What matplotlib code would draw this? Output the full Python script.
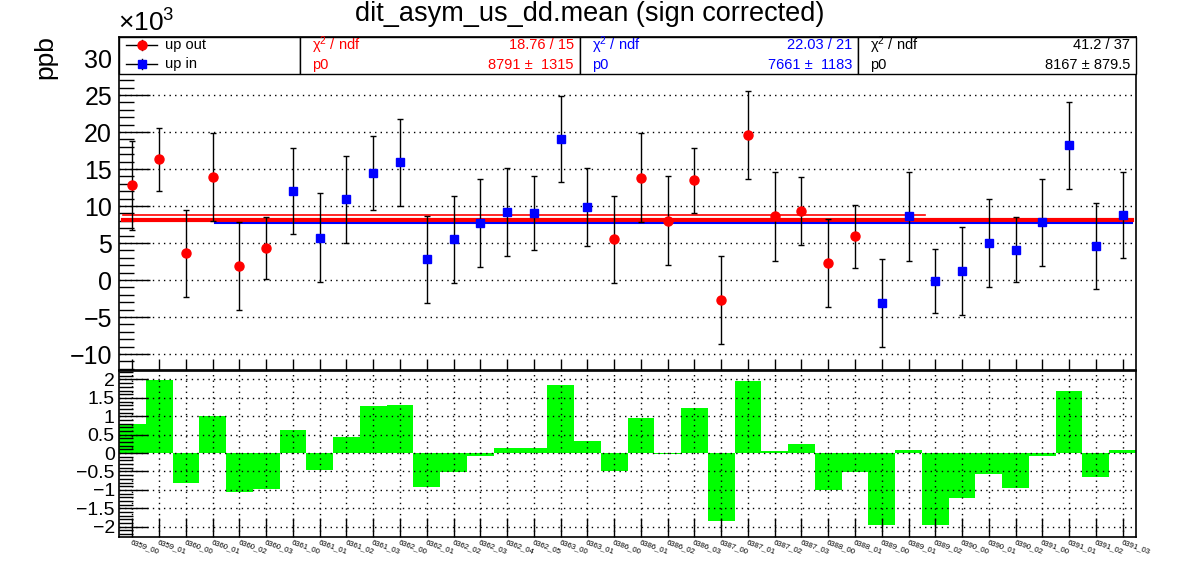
import matplotlib

matplotlib.use("Agg")
import matplotlib.pyplot as plt
import numpy as np
from matplotlib.patches import Rectangle
from matplotlib.ticker import MultipleLocator

plt.rcParams["font.family"] = ["Liberation Sans", "DejaVu Sans"]
plt.rcParams["mathtext.fontset"] = "custom"
plt.rcParams["mathtext.rm"] = "Liberation Sans"
plt.rcParams["mathtext.it"] = "Liberation Sans:italic"

runs = [
    "6359_00", "6359_01", "6360_00", "6360_01", "6360_02", "6360_03",
    "6361_00", "6361_01", "6361_02", "6361_03", "6362_00", "6362_01",
    "6362_02", "6362_03", "6362_04", "6362_05", "6363_00", "6363_01",
    "6386_00", "6386_01", "6386_02", "6386_03", "6387_00", "6387_01",
    "6387_02", "6387_03", "6388_00", "6388_01", "6389_00", "6389_01",
    "6389_02", "6390_00", "6390_01", "6390_02", "6391_00", "6391_01",
    "6391_02", "6391_03",
]
# slug: 'out' = red circles, 'in' = blue squares
slug = ["out"] * 6 + ["in"] * 12 + ["out"] * 10 + ["in"] * 10
# values in units of 1e3 ppb
mean = [
    12.8, 16.3, 3.6, 13.9, 1.9, 4.3, 12.0, 5.7, 10.9, 14.5, 15.9, 2.8,
    5.5, 7.7, 9.2, 9.0, 19.1, 9.9, 5.5, 13.8, 8.0, 13.5, -2.7, 19.6,
    8.6, 9.3, 2.3, 5.9, -3.1, 8.6, -0.1, 1.2, 5.0, 4.1, 7.8, 18.2,
    4.6, 8.8,
]
err = [
    6.0, 4.3, 5.9, 5.9, 5.9, 4.2, 5.8, 6.0, 5.9, 5.0, 5.9, 5.9,
    5.9, 5.9, 5.9, 5.0, 5.8, 5.3, 5.9, 6.0, 6.0, 4.4, 5.9, 5.9,
    6.0, 4.6, 5.9, 4.3, 5.9, 6.0, 4.3, 5.9, 5.9, 4.4, 5.9, 5.9,
    5.8, 5.8,
]
pull = [
    0.80, 1.98, -0.80, 1.00, -1.07, -0.97, 0.63, -0.45, 0.45, 1.27, 1.30, -0.93,
    -0.52, -0.08, 0.15, 0.15, 1.85, 0.32, -0.50, 0.95, -0.03, 1.22, -1.85, 1.97,
    0.07, 0.25, -1.00, -0.52, -1.95, 0.08, -1.95, -1.23, -0.57, -0.95, -0.07, 1.70,
    -0.65, 0.08,
]

# constant fits (values in 1e3 ppb, ranges in bin units)
fit_out = 8.791
fit_in = 7.661
fit_all = 8.167
range_out = (0.15, 30.1)
range_in = (3.6, 37.85)
range_all = (0.15, 37.85)

stats = [
    ("red", "18.76 / 15", "8791 \u00b1  1315"),
    ("blue", "22.03 / 21", "7661 \u00b1  1183"),
    ("black", "41.2 / 37", "8167 \u00b1 879.5"),
]

W, H = 1196, 572


def fx(px):
    return px / W


def fy(py):
    return 1 - py / H


def rect(l, t, r, b):
    return [fx(l), fy(b), fx(r) - fx(l), fy(t) - fy(b)]


fig = plt.figure(figsize=(W / 100, H / 100), dpi=100)
ax = fig.add_axes(rect(119, 37, 1136, 370))
axr = fig.add_axes(rect(119, 371, 1136, 537), sharex=ax)

x = np.arange(len(runs)) + 0.5
mean = np.array(mean)
err = np.array(err)
is_out = np.array([s == "out" for s in slug])
dot = (0, (1, 3))

ax.errorbar(x[is_out], mean[is_out], yerr=err[is_out], fmt="o", color="red",
            markersize=6.5, ecolor="black", elinewidth=1, capsize=2.2,
            capthick=1, zorder=4)
ax.errorbar(x[~is_out], mean[~is_out], yerr=err[~is_out], fmt="s", color="blue",
            markersize=6, ecolor="black", elinewidth=1, capsize=2.2,
            capthick=1, zorder=4)
ax.plot(range_out, [fit_out] * 2, color="red", lw=1.2, zorder=3)
ax.plot(range_all, [fit_all] * 2, color="red", lw=3, zorder=3)
ax.plot(range_in, [fit_in] * 2, color="blue", lw=1.5, zorder=3)

ax.set_xlim(0, len(runs))
ax.set_ylim(-12.16, 32.84)
ax.yaxis.set_major_locator(MultipleLocator(5))
ax.yaxis.set_minor_locator(MultipleLocator(1))
ax.set_xticks(x)
ax.tick_params(axis="y", which="major", direction="in", length=22, width=1,
               labelsize=18, pad=5)
ax.tick_params(axis="y", which="minor", direction="in", length=11, width=1)
ax.tick_params(axis="x", which="major", direction="in", length=8, width=1,
               labelbottom=False)
ax.grid(axis="y", which="major", color="black", linestyle=dot, lw=1)
for s in ax.spines.values():
    s.set_linewidth(1.2)

axr.bar(x, pull, width=1.0, color="#00ff00", zorder=2)
axr.set_ylim(-2.28, 2.23)
axr.yaxis.set_minor_locator(MultipleLocator(0.1))
axr.set_yticks([-2, -1.5, -1, -0.5, 0, 0.5, 1, 1.5, 2])
axr.set_yticklabels(["\u22122", "\u22121.5", "\u22121", "\u22120.5", "0", "0.5",
                     "1", "1.5", "2"])
axr.tick_params(axis="y", which="major", direction="in", length=21, width=1,
                labelsize=14, pad=3)
axr.tick_params(axis="y", which="minor", direction="in", length=10, width=1)
axr.tick_params(axis="x", which="major", direction="in", length=14, width=1)
axr.set_xticks(x)
axr.set_xticklabels(runs, rotation=-20, ha="left", va="top",
                    rotation_mode="anchor", fontsize=5.6)
axr.tick_params(axis="x", pad=1.5)
axr.grid(which="major", color="black", linestyle=dot, lw=1)
axr.set_axisbelow(False)
for s in axr.spines.values():
    s.set_linewidth(1.2)

# boxes along the top of the upper pad
box_edges = [119, 300, 580, 858, 1136]
for l, r in zip(box_edges[:-1], box_edges[1:]):
    fig.add_artist(Rectangle((fx(l), fy(74)), fx(r) - fx(l), fy(37) - fy(74),
                             transform=fig.transFigure, facecolor="white",
                             edgecolor="black", lw=1, zorder=10))

# legend entries
for (ypx, col, mk, lab) in [(45, "red", "o", "up out"), (64, "blue", "s", "up in")]:
    fig.add_artist(plt.Line2D([fx(126), fx(157)], [fy(ypx)] * 2, color="black",
                              lw=1, transform=fig.transFigure, zorder=11))
    fig.add_artist(plt.Line2D([fx(142)] * 2, [fy(ypx - 5), fy(ypx + 5)],
                              color="black", lw=1, transform=fig.transFigure,
                              zorder=11))
    fig.add_artist(plt.Line2D([fx(142)], [fy(ypx)], marker=mk, color=col,
                              markersize=6 if mk == "s" else 6.5, lw=0,
                              transform=fig.transFigure, zorder=12))
    fig.text(fx(165), fy(ypx), lab, fontsize=10.5, va="center", ha="left",
             zorder=12)

for (col, chi, p0), l, r in zip(stats, box_edges[1:-1], box_edges[2:]):
    fig.text(fx(l + 12), fy(45), "\u03c7$^{2}$ / ndf", color=col, fontsize=10.5,
             va="center", ha="left", zorder=12)
    fig.text(fx(r - 6), fy(45), chi, color=col, fontsize=10.5, va="center",
             ha="right", zorder=12)
    fig.text(fx(l + 12), fy(65), "p0", color=col, fontsize=10.5, va="center",
             ha="left", zorder=12)
    fig.text(fx(r - 6), fy(65), p0, color=col, fontsize=10.5, va="center",
             ha="right", zorder=12)

fig.text(fx(590), fy(14), "dit_asym_us_dd.mean (sign corrected)", fontsize=19.5,
         ha="center", va="center")
fig.text(fx(118), fy(23), r"$\times10^{3}$", fontsize=19, ha="left",
         va="center")
fig.text(fx(45), fy(57), "ppb", fontsize=19, rotation=90, ha="center",
         va="center")

fig.savefig("out.png", dpi=100)
